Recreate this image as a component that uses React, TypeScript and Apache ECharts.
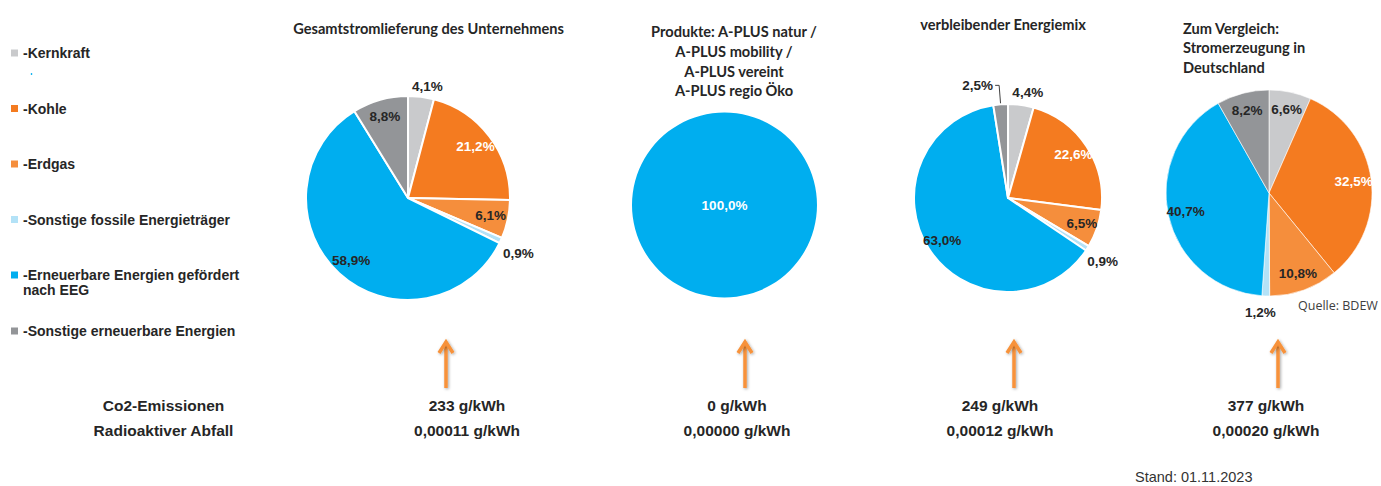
import React, { useEffect, useRef } from 'react';
import * as echarts from 'echarts';

// ---------- data ----------
const categories = [
  'Kernkraft',
  'Kohle',
  'Erdgas',
  'Sonstige fossile Energieträger',
  'Erneuerbare Energien gefördert nach EEG',
  'Sonstige erneuerbare Energien',
];
const legendLabels = [
  '-Kernkraft',
  '-Kohle',
  '-Erdgas',
  '-Sonstige fossile Energieträger',
  '\n-Erneuerbare Energien gefördert\nnach EEG',
  '-Sonstige erneuerbare Energien',
];
const unternehmenValues = [4.1, 21.2, 6.1, 0.9, 58.9, 8.8];
const produkteValues = [0, 0, 0, 0, 100.0, 0];
const restmixValues = [4.4, 22.6, 6.5, 0.9, 63.0, 2.5];
const deutschlandValues = [6.6, 32.5, 10.8, 1.2, 40.7, 8.2];

const pieTitles = [
  'Gesamtstromlieferung des Unternehmens',
  'Produkte: A-PLUS natur /\nA-PLUS mobility /\nA-PLUS vereint\nA-PLUS regio Öko',
  'verbleibender Energiemix',
  'Zum Vergleich:\nStromerzeugung in\nDeutschland',
];
const rowLabels = ['Co2-Emissionen', 'Radioaktiver Abfall'];
const co2Values = [233, 0, 249, 377];
const wasteValues = [0.00011, 0.0, 0.00012, 0.0002];
const sourceNote = 'Quelle: BDEW';
const dateNote = 'Stand: 01.11.2023';

// ---------- styles / layout ----------
const colors = ['#c9cacc', '#f47b20', '#f58e3c', '#b3e2f7', '#00aeef', '#939598'];
const TXT = '#262626';
const ARIAL = '"Liberation Sans", Arial, sans-serif';
const TITLE_FONT = 'Lato, "Open Sans", sans-serif';

type Mode = 'in' | 'out' | 'line' | 'center' | 'none';
interface OutCfg { len: number; len2?: number; align?: string; vAlign?: string; }

const pies = [
  {
    values: unternehmenValues, center: [408, 198], r: 102, border: 2,
    modes: ['out', 'in', 'in', 'out', 'in', 'in'] as Mode[],
    out: { 0: { len: 10, align: 'center', vAlign: 'middle' }, 3: { len: 14, align: 'center', vAlign: 'top' } } as Record<number, OutCfg>,
  },
  {
    values: produkteValues, center: [724.5, 205], r: 92.5, border: 0,
    modes: ['none', 'none', 'none', 'none', 'center', 'none'] as Mode[],
    out: {} as Record<number, OutCfg>,
  },
  {
    values: restmixValues, center: [1008, 198], r: 94, border: 2,
    modes: ['out', 'in', 'in', 'out', 'in', 'line'] as Mode[],
    out: { 0: { len: 13, align: 'center', vAlign: 'middle' }, 3: { len: 12, align: 'center', vAlign: 'top' }, 5: { len: 19, len2: 4 } } as Record<number, OutCfg>,
  },
  {
    values: deutschlandValues, center: [1269, 193], r: 103, border: 0.6,
    modes: ['in', 'in', 'in', 'out', 'in', 'in'] as Mode[],
    out: { 3: { len: 10, align: 'center', vAlign: 'top' } } as Record<number, OutCfg>,
  },
];

const titlePos = [
  { x: 428.5, y: 28, align: 'center' },
  { x: 734, y: 61.2, align: 'center' },
  { x: 1003, y: 24, align: 'center' },
  { x: 1183, y: 47.7, align: 'left' },
];
const columnX = [467, 737, 1000, 1266];
const arrowX = [446, 745, 1014, 1278];
const ARROW = '#f7923a';

const pct = (v: number) => v.toFixed(1).replace('.', ',') + '%';
const labelColor = (pieIdx: number, i: number) => (i === 1 || pieIdx === 1 ? '#ffffff' : TXT);

function buildSeries(): any[] {
  const out: any[] = [];
  pies.forEach((p, pi) => {
    const baseLabel = {
      fontFamily: ARIAL, fontWeight: 'bold', fontSize: 13.5, color: TXT,
      formatter: (d: any) => pct(d.value),
    };
    out.push({
      type: 'pie',
      name: 'pie' + pi,
      center: p.center,
      radius: [0, p.r],
      startAngle: 90,
      clockwise: true,
      avoidLabelOverlap: false,
      silent: true,
      emphasis: { disabled: true },
      itemStyle: { borderColor: '#ffffff', borderWidth: p.border },
      label: baseLabel,
      labelLayout: (params: any) => {
        const c = p.out[params.dataIndex];
        return c && c.align ? { align: c.align, verticalAlign: c.vAlign } : {};
      },
      data: categories.map((name, i) => {
        const m = p.modes[i];
        const c = p.out[i];
        const item: any = { name, value: p.values[i], itemStyle: { color: colors[i] } };
        if (m === 'out' || m === 'line') {
          item.label = { show: true, position: 'outside', color: TXT, distanceToLabelLine: m === 'line' ? 2 : 5 };
          item.labelLine = {
            show: m === 'line', length: c ? c.len : 8, length2: c && c.len2 != null ? c.len2 : 0,
            lineStyle: { color: '#404040', width: 1 },
          };
        } else if (m === 'center') {
          item.label = { show: true, position: 'center', color: labelColor(pi, i) };
          item.labelLine = { show: false };
        } else {
          item.label = { show: false };
          item.labelLine = { show: false };
        }
        return item;
      }),
    });
    // transparent ring carrying the inside labels further out than the default r/2
    out.push({
      type: 'pie',
      name: 'labels' + pi,
      center: p.center,
      radius: [p.r * 0.6, p.r],
      startAngle: 90,
      clockwise: true,
      avoidLabelOverlap: false,
      silent: true,
      legendHoverLink: false,
      emphasis: { disabled: true },
      itemStyle: { color: 'rgba(0,0,0,0)', borderWidth: 0 },
      label: { ...baseLabel, position: 'inside' },
      labelLine: { show: false },
      data: categories.map((name, i) => ({
        name,
        value: p.values[i],
        itemStyle: { color: 'rgba(0,0,0,0)', borderWidth: 0 },
        label: p.modes[i] === 'in' ? { show: true, color: labelColor(pi, i) } : { show: false },
      })),
    });
  });
  return out;
}

function buildGraphics(): any[] {
  const g: any[] = [];
  pieTitles.forEach((t, i) => {
    const pos = titlePos[i];
    g.push({
      type: 'text', x: pos.x, y: pos.y, silent: true,
      style: {
        text: t, fill: TXT, fontFamily: TITLE_FONT, fontWeight: 'bold', fontSize: 14.6,
        lineHeight: 19.7, align: pos.align, verticalAlign: 'middle',
      },
    });
  });
  const rowY = [405, 430];
  rowLabels.forEach((t, i) => {
    g.push({
      type: 'text', x: 163.5, y: rowY[i], silent: true,
      style: { text: t, fill: TXT, fontFamily: ARIAL, fontWeight: 'bold', fontSize: 15.5, align: 'center', verticalAlign: 'middle' },
    });
  });
  co2Values.forEach((v, i) => {
    g.push({
      type: 'text', x: columnX[i], y: rowY[0], silent: true,
      style: { text: v + ' g/kWh', fill: TXT, fontFamily: ARIAL, fontWeight: 'bold', fontSize: 15.5, align: 'center', verticalAlign: 'middle' },
    });
  });
  wasteValues.forEach((v, i) => {
    g.push({
      type: 'text', x: columnX[i], y: rowY[1], silent: true,
      style: { text: v.toFixed(5).replace('.', ',') + ' g/kWh', fill: TXT, fontFamily: ARIAL, fontWeight: 'bold', fontSize: 15.5, align: 'center', verticalAlign: 'middle' },
    });
  });
  const shadow = { shadowBlur: 3, shadowColor: 'rgba(0,0,0,0.35)', shadowOffsetX: 1, shadowOffsetY: 1 };
  arrowX.forEach((x) => {
    g.push({
      type: 'group', silent: true,
      children: [
        { type: 'rect', shape: { x: x - 1.75, y: 345, width: 3.5, height: 43 }, style: { fill: ARROW, ...shadow } },
        { type: 'polyline', shape: { points: [[x - 7, 353], [x, 342], [x + 7, 353]] }, style: { stroke: ARROW, fill: null, lineWidth: 3.5, lineJoin: 'miter', ...shadow } },
      ],
    });
  });
  g.push({
    type: 'text', x: 1298, y: 305, silent: true,
    style: { text: sourceNote, fill: '#404040', fontFamily: '"Open Sans", sans-serif', fontSize: 12.5, align: 'left', verticalAlign: 'middle' },
  });
  g.push({
    type: 'text', x: 1135, y: 477, silent: true,
    style: { text: dateNote, fill: '#333333', fontFamily: ARIAL, fontSize: 14.5, align: 'left', verticalAlign: 'middle' },
  });
  g.push({ type: 'circle', shape: { cx: 31.5, cy: 74, r: 0.8 }, style: { fill: '#00aeef' }, silent: true });
  return g;
}

export default function App() {
  const ref = useRef<HTMLDivElement>(null);
  useEffect(() => {
    if (!ref.current) return;
    const chart = echarts.init(ref.current, undefined, { renderer: 'svg' });
    const legendText = { fontFamily: ARIAL, fontWeight: 'bold' as const, fontSize: 14, color: TXT };
    const fmt = (name: string) => legendLabels[categories.indexOf(name)] ?? name;
    chart.setOption({
      animation: false,
      backgroundColor: '#ffffff',
      legend: [
        {
          data: categories.slice(0, 4), orient: 'vertical', left: 11, top: 45, itemGap: 39.5,
          icon: 'rect', itemWidth: 7, itemHeight: 7, selectedMode: false, padding: 0,
          itemStyle: { borderWidth: 0 }, textStyle: { ...legendText, lineHeight: 16 }, formatter: fmt,
        },
        {
          data: categories.slice(4), orient: 'vertical', left: 11, top: 252.5, itemGap: 26,
          icon: 'rect', itemWidth: 7, itemHeight: 7, selectedMode: false, padding: 0,
          itemStyle: { borderWidth: 0 }, textStyle: { ...legendText, lineHeight: 15 }, formatter: fmt,
        },
      ],
      series: buildSeries(),
      graphic: buildGraphics(),
    });
    return () => chart.dispose();
  }, []);
  return (
    <div
      ref={ref}
      style={{ position: 'fixed', left: 0, top: 0, width: 1381, height: 486, background: '#ffffff' }}
    />
  );
}
